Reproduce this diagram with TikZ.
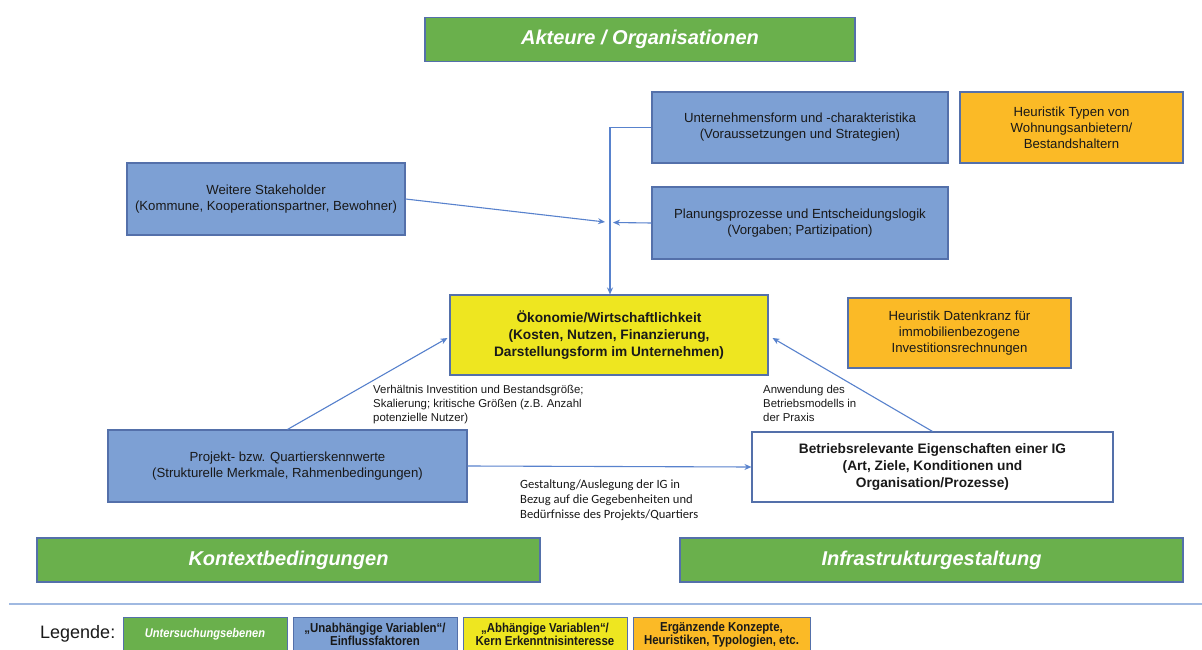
\documentclass[tikz,border=0pt]{standalone}
\usepackage{fontspec}
\setmainfont{Liberation Sans}
\newfontfamily\carlito{Carlito}
\newfontfamily\legfont[FakeStretch=0.88]{Liberation Sans}
\usetikzlibrary{arrows.meta,calc}

\definecolor{bluef}{RGB}{125,160,212}
\definecolor{bordc}{RGB}{84,112,170}
\definecolor{greenf}{RGB}{106,176,76}
\definecolor{yellowf}{RGB}{238,230,32}
\definecolor{orangef}{RGB}{251,186,38}
\definecolor{arrc}{RGB}{88,130,205}
\definecolor{sepc}{RGB}{160,185,225}
\definecolor{txt}{RGB}{25,25,25}

\tikzset{
  box/.style={draw=bordc, line width=1.1pt, align=center, inner sep=2pt,
    text=txt, font=\fontsize{13.2}{16}\selectfont},
  sz/.style 2 args={minimum width=#1pt, minimum height=#2pt},
  bluebox/.style={box, fill=bluef},
  orangebox/.style={box, fill=orangef},
  yellowbox/.style={box, fill=yellowf, font=\bfseries\fontsize{13.7}{17}\selectfont},
  whitebox/.style={box, fill=white, font=\bfseries\fontsize{13.7}{17}\selectfont},
  levelbox/.style={box, fill=greenf, text=white,
    font=\bfseries\itshape\fontsize{20}{22}\selectfont},
  legbox/.style={box, line width=1pt, font=\legfont\bfseries\fontsize{13}{12.5}\selectfont},
  arr/.style={draw=arrc, line width=1.1pt, -{Stealth[length=7pt,width=6pt]}},
  note/.style={anchor=north west, align=left, inner sep=0pt, text=txt,
    font=\fontsize{11.4}{14}\selectfont},
}

\begin{document}
\begin{tikzpicture}[x=1pt,y=-1pt]
\useasboundingbox[fill=white] (0,0) rectangle (1202,650);

% research levels
\node[levelbox, sz={430}{44}] (akt) at (640,39.5) {Akteure / Organisationen};
\node[levelbox, sz={503}{44}] (kont) at (288.5,560) {Kontextbedingungen};
\node[levelbox, sz={503}{44}] (infra) at (931.5,560) {Infrastrukturgestaltung};

% influencing factors
\node[bluebox, sz={296}{71}] (unt) at (800,127.5)
  {Unternehmensform und -charakteristika\\(Voraussetzungen und Strategien)};
\node[bluebox, sz={296}{72}] (plan) at (800,223)
  {Planungsprozesse und Entscheidungslogik\\(Vorgaben; Partizipation)};
\node[bluebox, sz={278}{72}] (weit) at (266,199)
  {Weitere Stakeholder\\(Kommune, Kooperationspartner, Bewohner)};
\node[bluebox, sz={359}{72}] (proj) at (287.5,466)
  {Projekt- bzw. Quartierskennwerte\\(Strukturelle Merkmale, Rahmenbedingungen)};

% complementary heuristics
\node[orangebox, sz={223}{71}] (heu1) at (1071.5,127.5)
  {Heuristik Typen von\\Wohnungsanbietern/\\Bestandshaltern};
\node[orangebox, sz={223}{70}] (heu2) at (959.5,333)
  {Heuristik Datenkranz für\\immobilienbezogene\\Investitionsrechnungen};

% dependent variable and infrastructure properties
\node[yellowbox, sz={318}{80}] (oek) at (609,335)
  {Ökonomie/Wirtschaftlichkeit\\(Kosten, Nutzen, Finanzierung,\\Darstellungsform im Unternehmen)};
\node[whitebox, sz={361}{70}] (betr) at (932.5,467)
  {Betriebsrelevante Eigenschaften einer IG\\(Art, Ziele, Konditionen und\\Organisation/Prozesse)};

% connectors
\coordinate (m1) at (605,222);
\coordinate (m2) at (613,222.5);
\draw[arr] (unt.west) -| ($(oek.north)+(1,0)$);
\draw[arr] (weit.east) -- (m1);
\draw[arr] (plan.west) -- (m2);
\draw[arr] (proj.north) -- ($(oek.west)+(-2,3)$);
\draw[arr] (betr.north) -- ($(oek.east)+(4,3)$);
\draw[arr] (proj.east) -- (betr.west);

% connector annotations
\node[note] (n1) at (373,385)
  {Verhältnis Investition und Bestandsgröße;\\Skalierung; kritische Größen (z.B. Anzahl\\potenzielle Nutzer)};
\node[note] (n2) at (763,385)
  {Anwendung des\\Betriebsmodells in\\der Praxis};
\node[note, font=\carlito\fontsize{12.6}{15}\selectfont] (n3) at (520,480)
  {Gestaltung/Auslegung der IG in\\Bezug auf die Gegebenheiten und\\Bedürfnisse des Projekts/Quartiers};

% legend
\draw[sepc, line width=1.6pt] (9,604) -- (1202,604);
\node[anchor=west, inner sep=0pt, text=txt, font=\fontsize{18}{20}\selectfont] (leg) at (40,634) {Legende:};
\node[legbox, fill=greenf, text=white, font=\legfont\bfseries\itshape\fontsize{12.6}{12.5}\selectfont, sz={164}{35}] (lg1) at (205,634.5) {Untersuchungsebenen};
\node[legbox, fill=bluef, sz={164}{35}] (lg2) at (375,634.5) {„Unabhängige Variablen“/\\Einflussfaktoren};
\node[legbox, fill=yellowf, sz={164}{35}] (lg3) at (545,634.5) {„Abhängige Variablen“/\\Kern Erkenntnisinteresse};
\node[legbox, fill=orangef, sz={177}{35}] (lg4) at (721.5,634.5) {Ergänzende Konzepte,\\Heuristiken, Typologien, etc.};
\end{tikzpicture}
\end{document}
